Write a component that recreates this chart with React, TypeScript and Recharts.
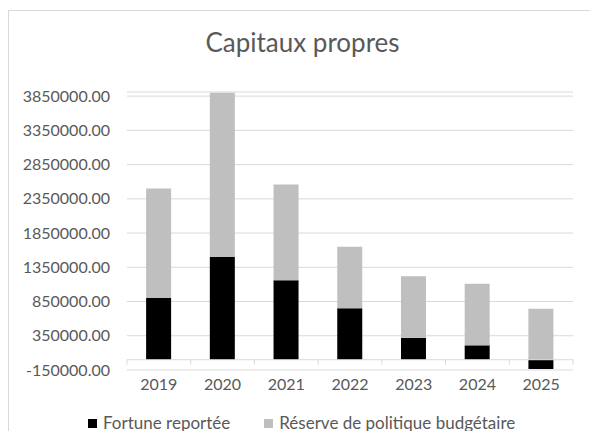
import React from 'react';
import { BarChart, Bar, XAxis, YAxis, CartesianGrid, Legend, ReferenceLine } from 'recharts';

const years = ['2019', '2020', '2021', '2022', '2023', '2024', '2025'];
const fortuneReportee = [900000, 1500000, 1160000, 750000, 320000, 210000, -135000];
const reservePolitique = [1600000, 2400000, 1400000, 900000, 900000, 900000, 745000];
const yTicks = [-150000, 350000, 850000, 1350000, 1850000, 2350000, 2850000, 3350000, 3850000];
const seriesNames = ['Fortune reportée', 'Réserve de politique budgétaire'];
const title = 'Capitaux propres';

const data = years.map((y, i) => ({
  year: y,
  fortune: fortuneReportee[i],
  reserve: reservePolitique[i],
}));

const FONT = 'Lato, "Open Sans", sans-serif';
const TEXT = '#595959';
const GRID = '#d9d9d9';
const TICK_LEN = 72000;

const LegendContent = (props: any) => {
  const payload = props.payload || [];
  return (
    <div style={{ display: 'flex', alignItems: 'center', paddingLeft: 79, height: 20, transform: 'translateY(2px)', fontFamily: FONT, fontSize: 17, lineHeight: '20px', color: TEXT, whiteSpace: 'nowrap' }}>
      {payload.map((p: any, i: number) => (
        <div key={i} style={{ display: 'flex', alignItems: 'center', marginRight: 34 }}>
          <span style={{ display: 'inline-block', width: 9, height: 9, background: p.color, marginRight: 6 }} />
          <span>{p.value}</span>
        </div>
      ))}
    </div>
  );
};

export default function App() {
  return (
    <div style={{ position: 'fixed', top: 10, left: 8, width: 581, height: 421, borderTop: '1px solid #d9d9d9', borderLeft: '1px solid #d9d9d9', background: '#fff', overflow: 'hidden' }}>
      <div style={{ position: 'absolute', top: 16, left: 0, width: 587, textAlign: 'center', fontFamily: FONT, fontSize: 26, lineHeight: '30px', color: TEXT }}>
        {title}
      </div>
      <BarChart
        width={581}
        height={420}
        data={data}
        stackOffset="sign"
        barCategoryGap="30%"
        margin={{ top: 81, right: 17, bottom: 0, left: 18 }}
      >
        <CartesianGrid vertical={false} stroke={GRID} />
        <XAxis
          dataKey="year"
          axisLine={false}
          tickLine={false}
          tickSize={0}
          tickMargin={9}
          height={41}
          tick={{ fill: TEXT, fontSize: 16, fontFamily: FONT }}
        />
        <YAxis
          type="number"
          domain={[-150000, 3910000]}
          ticks={yTicks}
          allowDataOverflow
          axisLine={false}
          tickLine={false}
          tickSize={0}
          tickMargin={17}
          width={100}
          tickFormatter={(v: number) => v.toFixed(2)}
          tick={{ fill: TEXT, fontSize: 16, fontFamily: FONT }}
        />
        <Bar dataKey="fortune" name={seriesNames[0]} stackId="a" fill="#000000" isAnimationActive={false} />
        <Bar dataKey="reserve" name={seriesNames[1]} stackId="a" fill="#bfbfbf" isAnimationActive={false} />
        <ReferenceLine y={0} stroke={GRID} strokeWidth={1} />
        {years.map((y) => (
          <ReferenceLine
            key={'t' + y}
            segment={[{ x: y, y: 0 }, { x: y, y: -TICK_LEN }]}
            position="start"
            stroke={GRID}
          />
        ))}
        <ReferenceLine
          segment={[{ x: years[years.length - 1], y: 0 }, { x: years[years.length - 1], y: -TICK_LEN }]}
          position="end"
          stroke={GRID}
        />
        <Legend verticalAlign="bottom" height={20} wrapperStyle={{ left: 0, width: 581 }} content={<LegendContent />} />
      </BarChart>
    </div>
  );
}
